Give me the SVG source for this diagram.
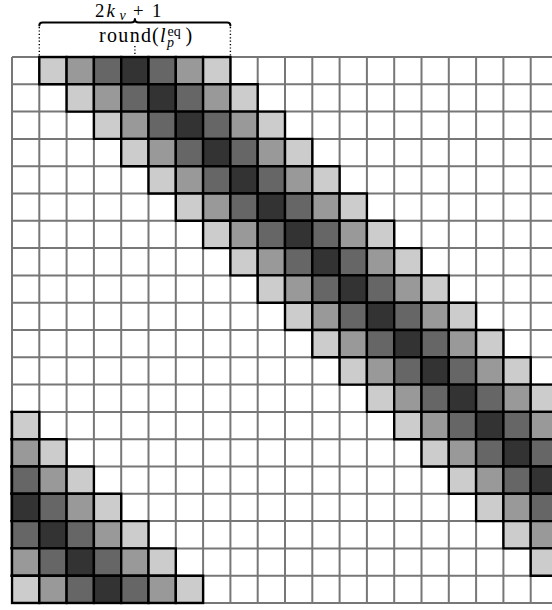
<svg xmlns="http://www.w3.org/2000/svg" xmlns:xlink="http://www.w3.org/1999/xlink" width="552" height="610" viewBox="0 0 552 610">
  <style>
    .gl { fill: none; stroke: #777777; stroke-width: 2; }
    .cell { stroke: #000000; stroke-width: 2.4; stroke-linejoin: miter; }
    .c1 { fill: #cccccc; }
    .c2 { fill: #999999; }
    .c3 { fill: #666666; }
    .c4 { fill: #333333; }
    .dot { fill: none; stroke: #000000; stroke-width: 1.4; stroke-dasharray: 1.2 2.2; }
    .brace { fill: none; stroke: #000000; stroke-width: 2; stroke-linecap: round; stroke-linejoin: round; }
    .lbl { font-family: "Liberation Serif", "DejaVu Serif", serif; font-size: 20px; fill: #000000; }
    .top { font-size: 18.8px; }
    .it { font-style: italic; }
    .sm { font-size: 14px; }
  </style>
  <defs>
    <g id="band">
      <rect class="cell c1" x="0" y="0" width="1" height="1" vector-effect="non-scaling-stroke"/>
      <rect class="cell c2" x="1" y="0" width="1" height="1" vector-effect="non-scaling-stroke"/>
      <rect class="cell c3" x="2" y="0" width="1" height="1" vector-effect="non-scaling-stroke"/>
      <rect class="cell c4" x="3" y="0" width="1" height="1" vector-effect="non-scaling-stroke"/>
      <rect class="cell c3" x="4" y="0" width="1" height="1" vector-effect="non-scaling-stroke"/>
      <rect class="cell c2" x="5" y="0" width="1" height="1" vector-effect="non-scaling-stroke"/>
      <rect class="cell c1" x="6" y="0" width="1" height="1" vector-effect="non-scaling-stroke"/>
    </g>
    <clipPath id="gridclip" clipPathUnits="userSpaceOnUse">
      <rect x="-0.06" y="-0.06" width="21" height="20.12"/>
    </clipPath>
  </defs>
  <rect x="0" y="0" width="552" height="610" fill="#ffffff"/>
  <g id="matrix" transform="translate(12 57) scale(27.3)">
    <path id="grid" class="gl" vector-effect="non-scaling-stroke" d="M0 0H20M0 1H20M0 2H20M0 3H20M0 4H20M0 5H20M0 6H20M0 7H20M0 8H20M0 9H20M0 10H20M0 11H20M0 12H20M0 13H20M0 14H20M0 15H20M0 16H20M0 17H20M0 18H20M0 19H20M0 20H20M0 0V20M1 0V20M2 0V20M3 0V20M4 0V20M5 0V20M6 0V20M7 0V20M8 0V20M9 0V20M10 0V20M11 0V20M12 0V20M13 0V20M14 0V20M15 0V20M16 0V20M17 0V20M18 0V20M19 0V20M20 0V20"/>
    <g id="bands" clip-path="url(#gridclip)">
      <use xlink:href="#band" href="#band" x="1" y="0"/>
      <use xlink:href="#band" href="#band" x="2" y="1"/>
      <use xlink:href="#band" href="#band" x="3" y="2"/>
      <use xlink:href="#band" href="#band" x="4" y="3"/>
      <use xlink:href="#band" href="#band" x="5" y="4"/>
      <use xlink:href="#band" href="#band" x="6" y="5"/>
      <use xlink:href="#band" href="#band" x="7" y="6"/>
      <use xlink:href="#band" href="#band" x="8" y="7"/>
      <use xlink:href="#band" href="#band" x="9" y="8"/>
      <use xlink:href="#band" href="#band" x="10" y="9"/>
      <use xlink:href="#band" href="#band" x="11" y="10"/>
      <use xlink:href="#band" href="#band" x="12" y="11"/>
      <use xlink:href="#band" href="#band" x="13" y="12"/>
      <use xlink:href="#band" href="#band" x="14" y="13"/>
      <use xlink:href="#band" href="#band" x="15" y="14"/>
      <use xlink:href="#band" href="#band" x="16" y="15"/>
      <use xlink:href="#band" href="#band" x="17" y="16"/>
      <use xlink:href="#band" href="#band" x="18" y="17"/>
      <use xlink:href="#band" href="#band" x="19" y="18"/>
      <use xlink:href="#band" href="#band" x="20" y="19"/>
      <use xlink:href="#band" href="#band" x="-6" y="13"/>
      <use xlink:href="#band" href="#band" x="-5" y="14"/>
      <use xlink:href="#band" href="#band" x="-4" y="15"/>
      <use xlink:href="#band" href="#band" x="-3" y="16"/>
      <use xlink:href="#band" href="#band" x="-2" y="17"/>
      <use xlink:href="#band" href="#band" x="-1" y="18"/>
      <use xlink:href="#band" href="#band" x="0" y="19"/>
    </g>
  </g>
  <g id="annotations">
    <line class="dot" x1="39.3" y1="27" x2="39.3" y2="56"/>
    <line class="dot" x1="230.4" y1="27" x2="230.4" y2="56"/>
    <line class="dot" x1="134.9" y1="46" x2="134.9" y2="56"/>
    <path class="brace" d="M39.3 25.5 Q39.3 22.5 42.5 22.5 L131 22.5 Q134.9 22.5 134.9 19 Q134.9 22.5 138.8 22.5 L227.2 22.5 Q230.4 22.5 230.4 25.5"/>
  </g>
  <g id="labels">
    <text class="lbl top" y="17"><tspan x="95">2</tspan><tspan class="it" x="106.5">k</tspan><tspan class="it sm" x="119.5" dy="3.3">ν</tspan><tspan x="133" dy="-3.3">+</tspan><tspan x="152">1</tspan></text>
    <text class="lbl" y="42.3"><tspan x="99" textLength="52" lengthAdjust="spacing">round</tspan><tspan x="152">(</tspan><tspan class="it" x="160">l</tspan><tspan class="sm" x="167.5" dy="-6.3">eq</tspan><tspan class="it sm" x="167" dy="10.5">p</tspan><tspan x="185.5" dy="-4.2">)</tspan></text>
  </g>
</svg>
